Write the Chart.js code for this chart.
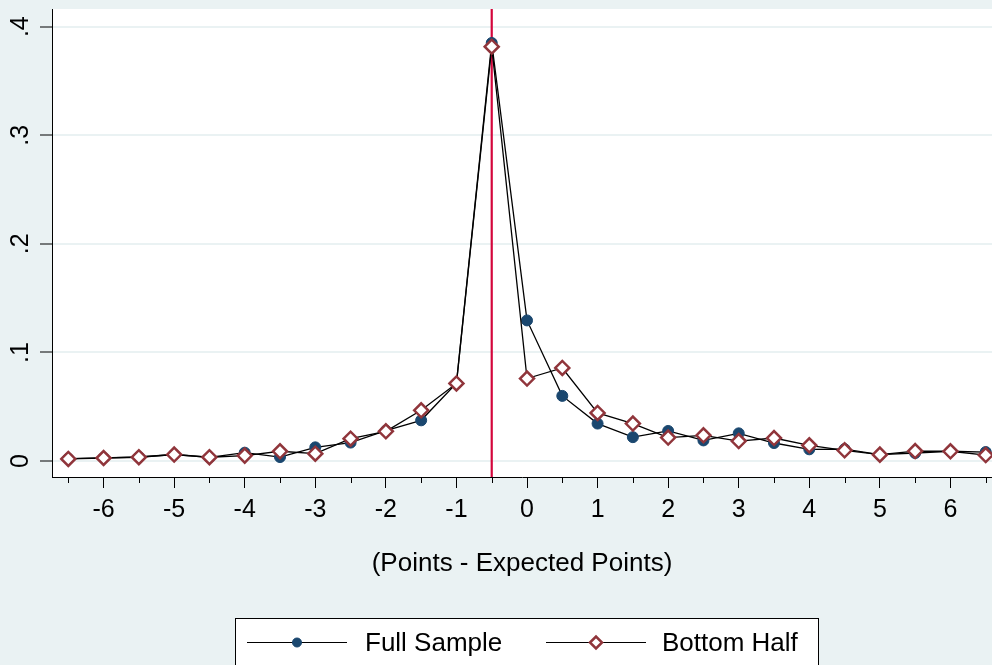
<!DOCTYPE html>
<html>
<head>
<meta charset="utf-8">
<script src="https://cdn.jsdelivr.net/npm/chart.js@4"></script>
<style>
html, body { margin: 0; padding: 0; background: #eaf2f3; overflow: hidden; }
canvas { display: block; }
</style>
</head>
<body>
<canvas id="chart" width="992" height="665"></canvas>
<script>
// x positions (points - expected points), one per half point
const xValues = [-6.5, -6, -5.5, -5, -4.5, -4, -3.5, -3, -2.5, -2, -1.5, -1, -0.5,
                 0, 0.5, 1, 1.5, 2, 2.5, 3, 3.5, 4, 4.5, 5, 5.5, 6, 6.5];
const fullSample = [0.0022, 0.003, 0.0037, 0.006, 0.0034, 0.0077, 0.0037, 0.0126, 0.017, 0.028, 0.0375, 0.0716, 0.385,
                    0.1295, 0.060, 0.0345, 0.022, 0.0277, 0.019, 0.0255, 0.0166, 0.0108, 0.011, 0.0059, 0.0074, 0.009, 0.0083];
const bottomHalf = [0.0019, 0.0028, 0.0035, 0.006, 0.0035, 0.005, 0.009, 0.0068, 0.0206, 0.0274, 0.0467, 0.0715, 0.3816,
                    0.076, 0.0857, 0.0443, 0.0345, 0.0216, 0.0237, 0.0184, 0.0212, 0.0145, 0.0099, 0.0059, 0.0092, 0.009, 0.0055];
const xTickValues = [-6, -5, -4, -3, -2, -1, 0, 1, 2, 3, 4, 5, 6];
const yTickValues = [0, 0.1, 0.2, 0.3, 0.4];
const yTickLabels = ['0', '.1', '.2', '.3', '.4'];
const seriesNames = ['Full Sample', 'Bottom Half'];
const cutoff = -0.5;

const BG = '#eaf2f3';
const NAVY = '#1a476f';
const MAROON = '#90353b';
const FONT = "'Liberation Sans', Arial, sans-serif";

Chart.defaults.font.family = FONT;
Chart.defaults.color = '#000';

const pts = arr => xValues.map((x, i) => ({ x: x, y: arr[i] }));

// drop the label padding chart.js wants to add around the plot
const noPad = s => { s.paddingLeft = 0; s.paddingRight = 0; s.paddingTop = 0; s.paddingBottom = 0; };

// background, plot region, red reference line, minor ticks, legend box
const decor = {
    id: 'decor',
    beforeDraw(chart) {
        const { ctx, chartArea: a } = chart;
        ctx.save();
        ctx.fillStyle = BG;
        ctx.fillRect(0, 0, chart.width, chart.height);
        ctx.fillStyle = '#ffffff';
        ctx.fillRect(a.left, a.top, a.right - a.left, a.bottom - a.top);
        ctx.restore();
    },
    beforeDatasetsDraw(chart) {
        const { ctx, chartArea: a, scales: { x } } = chart;
        const px = x.getPixelForValue(cutoff);
        ctx.save();
        ctx.strokeStyle = '#d4063c';
        ctx.lineWidth = 2.2;
        ctx.beginPath();
        ctx.moveTo(px, a.top);
        ctx.lineTo(px, a.bottom);
        ctx.stroke();
        ctx.restore();
    },
    afterDraw(chart) {
        const { ctx, chartArea: a, scales: { x } } = chart;
        ctx.save();
        // half-point minor ticks
        ctx.strokeStyle = '#000';
        ctx.lineWidth = 1;
        xValues.filter(v => !Number.isInteger(v)).forEach(v => {
            const px = Math.round(x.getPixelForValue(v)) + 0.5;
            ctx.beginPath();
            ctx.moveTo(px, a.bottom);
            ctx.lineTo(px, a.bottom + 6);
            ctx.stroke();
        });
        // legend
        ctx.fillStyle = '#ffffff';
        ctx.fillRect(235.5, 618.5, 583, 60);
        ctx.strokeRect(235.5, 618.5, 583, 60);
        const items = [
            { x0: 247, x1: 347, mx: 297, tx: 365 },
            { x0: 546, x1: 646, mx: 596, tx: 662 }
        ];
        const ly = 642.5;
        chart.data.datasets.forEach((ds, i) => {
            const it = items[i];
            ctx.strokeStyle = '#000';
            ctx.lineWidth = 1;
            ctx.beginPath();
            ctx.moveTo(it.x0, ly);
            ctx.lineTo(it.x1, ly);
            ctx.stroke();
            ctx.fillStyle = ds.pointBackgroundColor;
            ctx.strokeStyle = ds.pointBorderColor;
            ctx.lineWidth = ds.pointBorderWidth;
            Chart.helpers.drawPoint(ctx, { pointStyle: ds.pointStyle, radius: ds.pointRadius - 1, borderWidth: ds.pointBorderWidth }, it.mx, ly);
            ctx.fillStyle = '#000';
            ctx.font = '26px ' + FONT;
            ctx.textBaseline = 'middle';
            ctx.textAlign = 'left';
            ctx.fillText(ds.label, it.tx, ly + 1);
        });
        ctx.restore();
    }
};

new Chart(document.getElementById('chart'), {
    type: 'line',
    data: {
        datasets: [{
            label: seriesNames[0],
            data: pts(fullSample),
            order: 1,
            borderColor: '#000',
            borderWidth: 1.3,
            pointStyle: 'circle',
            pointRadius: 5.5,
            pointBackgroundColor: NAVY,
            pointBorderColor: NAVY,
            pointBorderWidth: 1
        }, {
            label: seriesNames[1],
            data: pts(bottomHalf),
            order: 0,
            borderColor: '#000',
            borderWidth: 1.3,
            pointStyle: 'rectRot',
            pointRadius: 7,
            pointBackgroundColor: '#ffffff',
            pointBorderColor: MAROON,
            pointBorderWidth: 2.5
        }]
    },
    options: {
        responsive: false,
        animation: false,
        devicePixelRatio: 1,
        clip: false,
        layout: { autoPadding: false, padding: { top: 9, left: 0, right: 0, bottom: 0 } },
        plugins: { legend: { display: false }, title: { display: false }, tooltip: { enabled: false } },
        scales: {
            x: {
                type: 'linear',
                min: -6.731,
                max: 6.589,
                afterBuildTicks: s => { s.ticks = xTickValues.map(v => ({ value: v })); },
                afterFit: s => { s.height = 188; noPad(s); },
                ticks: {
                    font: { size: 25 },
                    padding: 7,
                    maxRotation: 0,
                    autoSkip: false,
                    callback: v => String(v)
                },
                grid: {
                    drawOnChartArea: false,
                    drawTicks: true,
                    tickLength: 11,
                    tickColor: '#000',
                    tickWidth: 1
                },
                border: { display: true, color: '#000', width: 1 },
                title: {
                    display: true,
                    text: '(Points - Expected Points)',
                    font: { size: 26 },
                    color: '#000',
                    padding: { top: 0, bottom: 86 }
                }
            },
            y: {
                type: 'linear',
                min: -0.0147,
                max: 0.4163,
                afterBuildTicks: s => { s.ticks = yTickValues.map(v => ({ value: v })); },
                afterFit: s => { s.width = 52; noPad(s); },
                ticks: {
                    font: { size: 25 },
                    padding: 8,
                    minRotation: 90,
                    maxRotation: 90,
                    crossAlign: 'center',
                    callback: v => yTickLabels[yTickValues.indexOf(v)]
                },
                grid: {
                    color: BG,
                    lineWidth: 2,
                    drawTicks: true,
                    tickLength: 12,
                    tickColor: '#000',
                    tickWidth: 1
                },
                border: { display: true, color: '#000', width: 1 }
            }
        }
    },
    plugins: [decor]
});
</script>
</body>
</html>
